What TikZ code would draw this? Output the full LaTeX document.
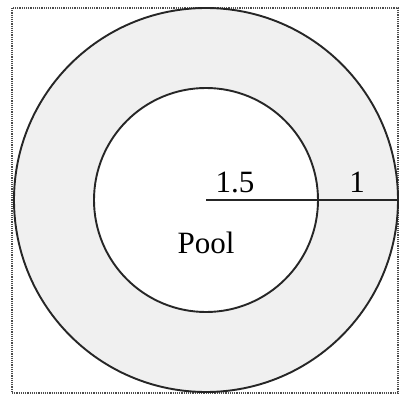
\documentclass[tikz,border=0pt]{standalone}
\usepackage{fontspec}
\setmainfont{Liberation Serif}
\begin{document}
\begin{tikzpicture}[x=1pt,y=-1pt,
  ringline/.style={draw=black!85,line width=1.9pt},
  lbl/.style={inner sep=0pt,anchor=base,font=\fontsize{31}{34}\selectfont}]
\useasboundingbox (0,0) rectangle (399,396);
\fill[white] (0,0) rectangle (399,396);
\draw[black!70,densely dotted,line width=1.2pt] (12,8) rectangle (398,393);
\coordinate (c) at (206,200);
\fill[black!6,even odd rule] (c) circle[radius=192] (c) circle[radius=112];
\draw[ringline] (c) circle[radius=192];
\draw[ringline] (c) circle[radius=112];
\coordinate (e) at (399,200);
\draw[ringline] (c) -- (e);
\node[lbl] (a) at (235,192) {1.5};
\node[lbl] (b) at (357,192) {1};
\node[lbl] (p) at (206,253) {Pool};
\end{tikzpicture}
\end{document}
